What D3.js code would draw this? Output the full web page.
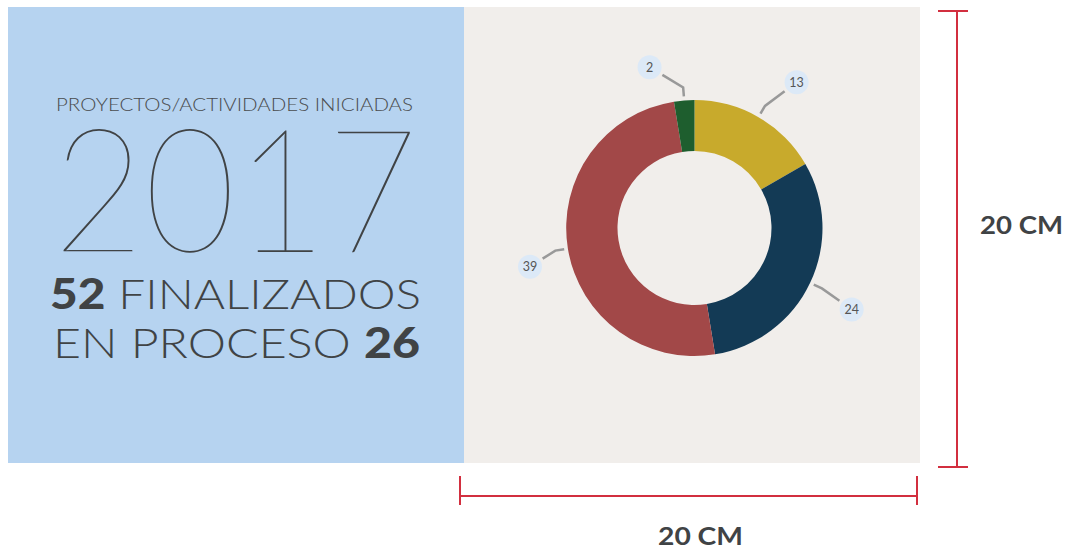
<!DOCTYPE html>
<html>
<head>
<meta charset="utf-8">
<script src="https://cdn.jsdelivr.net/npm/d3@7"></script>
<style>
  body { margin: 0; background: #fff; }
  svg { display: block; }
  text { font-family: Lato, "Open Sans", sans-serif; }
</style>
</head>
<body>
<div id="chart"></div>
<script>
// data
const categories = ["En proceso A", "En proceso B", "Finalizados A", "Finalizados B"];
const values = [13, 24, 39, 2];
const colors = ["#c8aa2c", "#133a55", "#a24848", "#1e5e2e"];

const title = "PROYECTOS/ACTIVIDADES INICIADAS";
const year = "2017";
const finished = 52;
const inProcess = 26;
const sizeLabel = "20 CM";

// label placement tweaks (degrees added to arc mid angle, distance from centre)
const labelShift = [5, 2, -4, -11];
const labelDist = [178, 177, 169, 167];

const width = 1070;
const height = 549;

const svg = d3.select("#chart")
  .append("svg")
  .attr("width", width)
  .attr("height", height);

// panels
svg.append("rect").attr("x", 8).attr("y", 7).attr("width", 456).attr("height", 456).attr("fill", "#b6d3f0");
svg.append("rect").attr("x", 464).attr("y", 7).attr("width", 456).attr("height", 456).attr("fill", "#f1eeeb");

// left text block
const ink = "#404345";
svg.append("text")
  .attr("x", 56).attr("y", 111)
  .attr("font-size", 18).attr("font-weight", 300)
  .attr("fill", "#4a4c4e")
  .attr("textLength", 357).attr("lengthAdjust", "spacingAndGlyphs")
  .text(title);

svg.append("text")
  .attr("x", 53).attr("y", 252)
  .attr("font-size", 172).attr("font-weight", 100)
  .attr("fill", ink)
  .attr("textLength", 365).attr("lengthAdjust", "spacingAndGlyphs")
  .text(year);

const line1 = svg.append("text")
  .attr("x", 50).attr("y", 309)
  .attr("font-size", 42).attr("fill", ink)
  .attr("textLength", 371).attr("lengthAdjust", "spacingAndGlyphs");
line1.append("tspan").attr("font-weight", 900).text(finished);
line1.append("tspan").attr("font-weight", 300).text(" FINALIZADOS");

const line2 = svg.append("text")
  .attr("x", 53).attr("y", 358)
  .attr("font-size", 42).attr("fill", ink)
  .attr("textLength", 367).attr("lengthAdjust", "spacingAndGlyphs");
line2.append("tspan").attr("font-weight", 300).text("EN PROCESO ");
line2.append("tspan").attr("font-weight", 900).text(inProcess);

// donut
const cx = 694.5, cy = 228;
const outerR = 128, innerR = 77;

const pie = d3.pie().sort(null).value((d) => d);
const arcs = pie(values);
const arc = d3.arc().innerRadius(innerR).outerRadius(outerR);

const g = svg.append("g").attr("transform", `translate(${cx},${cy})`);

g.selectAll("path.slice")
  .data(arcs)
  .enter()
  .append("path")
  .attr("class", "slice")
  .attr("d", arc)
  .attr("fill", (d, i) => colors[i]);

function polar(angle, r) {
  return [Math.sin(angle) * r, -Math.cos(angle) * r];
}

arcs.forEach((d, i) => {
  const mid = (d.startAngle + d.endAngle) / 2;
  const p0 = polar(mid, outerR + 4);
  const p1 = polar(mid, outerR + 13);
  const la = mid + (labelShift[i] * Math.PI) / 180;
  const lc = polar(la, labelDist[i]);
  const dx = p1[0] - lc[0], dy = p1[1] - lc[1];
  const len = Math.sqrt(dx * dx + dy * dy);
  const p2 = [lc[0] + (dx / len) * 15, lc[1] + (dy / len) * 15];

  g.append("path")
    .attr("d", d3.line()([p0, p1, p2]))
    .attr("fill", "none")
    .attr("stroke", "#999")
    .attr("stroke-width", 2.5);

  g.append("circle")
    .attr("cx", lc[0]).attr("cy", lc[1]).attr("r", 12)
    .attr("fill", "#dce9f7");

  g.append("text")
    .attr("x", lc[0]).attr("y", lc[1] + 4.5)
    .attr("text-anchor", "middle")
    .attr("font-size", 12.5)
    .attr("fill", "#555")
    .text(values[i]);
});

// size markers
const red = "#d22f3f";
svg.append("line").attr("x1", 957).attr("x2", 957).attr("y1", 11).attr("y2", 467).attr("stroke", red).attr("stroke-width", 2);
svg.append("line").attr("x1", 938).attr("x2", 968).attr("y1", 11).attr("y2", 11).attr("stroke", red).attr("stroke-width", 2);
svg.append("line").attr("x1", 938).attr("x2", 968).attr("y1", 467).attr("y2", 467).attr("stroke", red).attr("stroke-width", 2);

svg.append("line").attr("x1", 460).attr("x2", 917).attr("y1", 496).attr("y2", 496).attr("stroke", red).attr("stroke-width", 2);
svg.append("line").attr("x1", 460).attr("x2", 460).attr("y1", 476).attr("y2", 505).attr("stroke", red).attr("stroke-width", 2);
svg.append("line").attr("x1", 917).attr("x2", 917).attr("y1", 476).attr("y2", 505).attr("stroke", red).attr("stroke-width", 2);

svg.append("text")
  .attr("x", 980).attr("y", 234)
  .attr("font-size", 25).attr("font-weight", 700)
  .attr("fill", ink)
  .attr("textLength", 83).attr("lengthAdjust", "spacingAndGlyphs")
  .text(sizeLabel);

svg.append("text")
  .attr("x", 658).attr("y", 545)
  .attr("font-size", 25).attr("font-weight", 700)
  .attr("fill", ink)
  .attr("textLength", 85).attr("lengthAdjust", "spacingAndGlyphs")
  .text(sizeLabel);
</script>
</body>
</html>
